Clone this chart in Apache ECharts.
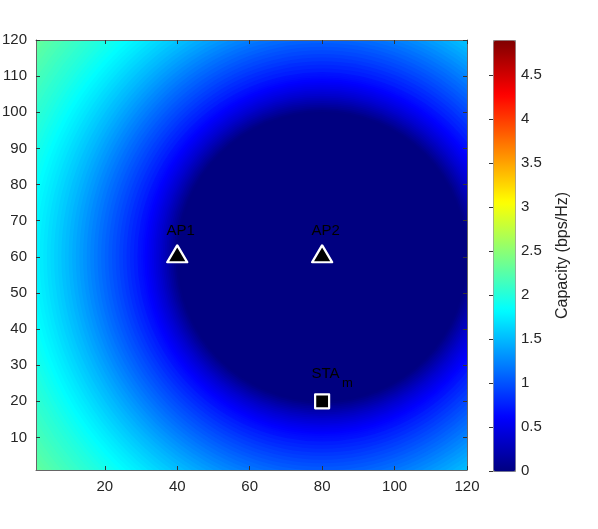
<!DOCTYPE html>
<html><head><meta charset="utf-8">
<script src="https://cdn.jsdelivr.net/npm/echarts@6/dist/echarts.min.js"></script>
<style>html,body{margin:0;padding:0;background:#fff}#c{width:598px;height:529px}</style>
</head><body><div id="c"></div>
<script>
// Capacity field: concentric bands around AP2 (radius in grid units -> capacity)
const ringCenter = [80, 60];
const ringRadius = [100, 99, 98, 97, 96, 95, 94, 93, 92, 91, 90, 89, 88, 87, 86, 85, 84, 83, 82, 81,
  80, 79, 78, 77, 76, 75, 74, 73, 72, 71, 70, 69, 68, 67, 66, 65, 64, 63, 62, 61,
  60, 59, 58, 57, 56, 55, 54, 53, 52, 51,
  50.5, 50, 49.5, 49, 48.5, 48, 47.5, 47, 46.5, 46, 45.5, 45, 44.5, 44, 43.5, 43, 42.5, 42, 41.5, 41, 40.5, 40];
const ringCapacity = [2.34, 2.31, 2.29, 2.26, 2.24, 2.21, 2.19, 2.16, 2.14, 2.11, 2.09, 2.06, 2.04, 2.01, 1.985, 1.955, 1.925, 1.895, 1.865, 1.835,
  1.805, 1.775, 1.745, 1.715, 1.68, 1.65, 1.61, 1.58, 1.54, 1.51, 1.47, 1.43, 1.395, 1.355, 1.315, 1.275, 1.235, 1.195, 1.155, 1.115,
  1.075, 1.035, 0.995, 0.955, 0.915, 0.875, 0.83, 0.79, 0.75, 0.70,
  0.69, 0.67, 0.645, 0.62, 0.595, 0.565, 0.535, 0.505, 0.475, 0.44, 0.41, 0.375, 0.34, 0.30, 0.26, 0.22, 0.18, 0.14, 0.10, 0.06, 0.02, 0];

const apNames = ['AP1', 'AP2'];
const apX = [40, 80];
const apY = [60, 60];
const staName = 'STA';
const staSub = 'm';
const staX = [80];
const staY = [20];

const xTicks = [20, 40, 60, 80, 100, 120];
const yTicks = [10, 20, 30, 40, 50, 60, 70, 80, 90, 100, 110, 120];
const cbTicks = [0, 0.5, 1, 1.5, 2, 2.5, 3, 3.5, 4, 4.5];
const capMin = 0, capMax = 4.9;
const axisMin = 1, axisMax = 120;
const cbTitle = 'Capacity (bps/Hz)';

const jet = ['#000080', '#0000ff', '#0080ff', '#00ffff', '#80ff80', '#ffff00', '#ff8000', '#ff0000', '#800000'];
const FONT = '"Liberation Sans", Helvetica, Arial, sans-serif';
const TXT = '#262626';

const chart = echarts.init(document.getElementById('c'), null, {renderer: 'canvas'});

function mainAxis(pos, ticks, showLabel) {
  return {
    type: 'value', position: pos, min: axisMin, max: axisMax, gridIndex: 0, z: 5,
    axisLine: {show: true, onZero: false, lineStyle: {color: '#666', width: 1}},
    axisTick: {show: true, inside: true, length: 4, customValues: ticks, lineStyle: {color: '#333', width: 1}},
    axisLabel: {show: showLabel, customValues: ticks, margin: 9, fontSize: 15, color: TXT, fontFamily: FONT},
    splitLine: {show: false}
  };
}

const option = {
  animation: false,
  backgroundColor: '#fff',
  grid: [
    {left: 36, top: 40, width: 431, height: 430, outerBoundsMode: 'none', containLabel: false},
    {left: 493, top: 40, width: 22, height: 431, outerBoundsMode: 'none', containLabel: false}
  ],
  xAxis: [
    mainAxis('bottom', xTicks, true),
    mainAxis('top', xTicks, false),
    {type: 'value', gridIndex: 1, min: 0, max: 1, show: false}
  ],
  yAxis: [
    mainAxis('left', yTicks, true),
    mainAxis('right', yTicks, false),
    {
      type: 'value', gridIndex: 1, position: 'right', min: capMin, max: capMax, z: 6,
      axisLine: {show: false},
      axisTick: {show: true, inside: true, length: 4, customValues: cbTicks, lineStyle: {color: '#333'}},
      axisLabel: {show: true, customValues: cbTicks, margin: 6, fontSize: 15, color: TXT, fontFamily: FONT},
      splitLine: {show: false},
      name: cbTitle, nameLocation: 'middle', nameRotate: 90, nameGap: 40,
      nameTextStyle: {fontSize: 16, color: TXT, fontFamily: FONT}
    }
  ],
  visualMap: {
    type: 'continuous', seriesIndex: 0, dimension: 3, min: capMin, max: capMax,
    inRange: {color: jet}, calculable: false, hoverLink: false, orient: 'vertical',
    left: 493, top: 40, itemWidth: 22, itemHeight: 431, padding: 0,
    borderColor: '#888', borderWidth: 1, text: null, z: 4
  },
  series: [
    {
      type: 'custom', xAxisIndex: 0, yAxisIndex: 0, clip: true, silent: true, z: 1,
      dimensions: ['x', 'y', 'r', 'cap'],
      encode: {x: 0, y: 1},
      data: ringRadius.map((r, i) => [ringCenter[0], ringCenter[1], r, ringCapacity[i]]),
      renderItem: function (params, api) {
        const c = api.coord([api.value(0), api.value(1)]);
        const rr = api.size([api.value(2), 0])[0];
        return {type: 'circle', shape: {cx: c[0], cy: c[1], r: rr}, style: {fill: api.visual('color')}};
      }
    },
    {
      type: 'scatter', xAxisIndex: 0, yAxisIndex: 0, z: 8, silent: true,
      symbol: 'triangle', symbolSize: [20, 17], symbolOffset: [0, -3],
      itemStyle: {color: '#000', opacity: 1, borderColor: '#fff', borderWidth: 2.2, borderJoin: 'round'},
      label: {show: true, position: 'inside', offset: [3.5, -23], formatter: p => p.name,
        fontSize: 15, color: '#000', opacity: 1, fontFamily: FONT},
      data: apNames.map((n, i) => ({name: n, value: [apX[i], apY[i]]}))
    },
    {
      type: 'scatter', xAxisIndex: 0, yAxisIndex: 0, z: 8, silent: true,
      symbol: 'rect', symbolSize: 14,
      itemStyle: {color: '#000', opacity: 1, borderColor: '#fff', borderWidth: 2.2, borderJoin: 'round'},
      label: {show: true, position: 'inside', offset: [3.3, -27], formatter: staName,
        fontSize: 15, color: '#000', opacity: 1, fontFamily: FONT},
      data: staX.map((x, i) => [x, staY[i]])
    },
    {
      type: 'scatter', xAxisIndex: 0, yAxisIndex: 0, z: 8, silent: true,
      symbol: 'rect', symbolSize: 1, itemStyle: {color: 'rgba(0,0,0,0)', opacity: 1},
      label: {show: true, position: 'inside', offset: [25.3, -18], formatter: staSub,
        fontSize: 13, color: '#000', opacity: 1, fontFamily: FONT},
      data: staX.map((x, i) => [x, staY[i]])
    }
  ]
};
chart.setOption(option);
</script>
</body></html>
